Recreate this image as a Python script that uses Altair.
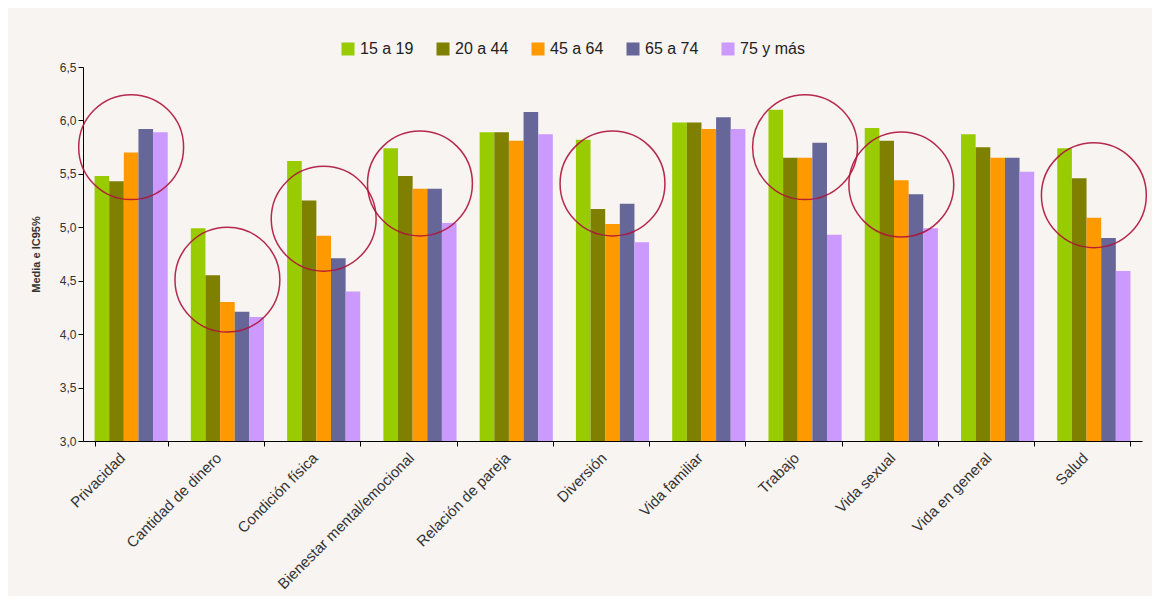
import altair as alt
import pandas as pd

categories = ["Privacidad", "Cantidad de dinero", "Condición física", "Bienestar mental/emocional",
              "Relación de pareja", "Diversión", "Vida familiar", "Trabajo", "Vida sexual",
              "Vida en general", "Salud"]
groups = ["15 a 19", "20 a 44", "45 a 64", "65 a 74", "75 y más"]
colors = ["#99cc00", "#808000", "#ff9900", "#666699", "#cc99ff"]

v_15_19 = [5.48, 4.99, 5.62, 5.74, 5.89, 5.82, 5.98, 6.10, 5.93, 5.87, 5.74]
v_20_44 = [5.43, 4.55, 5.25, 5.48, 5.89, 5.17, 5.98, 5.65, 5.81, 5.75, 5.46]
v_45_64 = [5.70, 4.30, 4.92, 5.36, 5.81, 5.03, 5.92, 5.65, 5.44, 5.65, 5.09]
v_65_74 = [5.92, 4.21, 4.71, 5.36, 6.08, 5.22, 6.03, 5.79, 5.31, 5.65, 4.90]
v_75_mas = [5.89, 4.16, 4.40, 5.04, 5.87, 4.86, 5.92, 4.93, 4.99, 5.52, 4.59]

circled = ["Privacidad", "Cantidad de dinero", "Condición física", "Bienestar mental/emocional",
           "Diversión", "Trabajo", "Vida sexual", "Salud"]
circle_y = [5.75, 4.51, 5.08, 5.41, 5.41, 5.75, 5.40, 5.30]

series = [v_15_19, v_20_44, v_45_64, v_65_74, v_75_mas]
rows = []
for g, vals in zip(groups, series):
    for c, v in zip(categories, vals):
        rows.append({"categoria": c, "grupo": g, "valor": v})
df = pd.DataFrame(rows)
df_c = pd.DataFrame({"categoria": circled, "valor": circle_y})

FONT = "Liberation Sans"

x_enc = alt.X("categoria:N", sort=categories, title=None,
              scale=alt.Scale(paddingInner=0.24, paddingOuter=0.12),
              axis=alt.Axis(labelAngle=-45, labelAlign="right", labelBaseline="middle",
                            tickBand="extent", tickSize=5, tickColor="black",
                            domainColor="black", labelFontSize=15, labelColor="#333333",
                            labelFont=FONT, labelPadding=9, labelOffset=-9, labelLimit=200))

y_enc = alt.Y("valor:Q", title="Media e IC95%",
              scale=alt.Scale(domain=[3, 6.5], zero=False, nice=False),
              axis=alt.Axis(values=[3, 3.5, 4, 4.5, 5, 5.5, 6, 6.5],
                            labelExpr="replace(format(datum.value, '.1f'), '.', ',')",
                            grid=False, tickSize=5, tickColor="black", domainColor="black",
                            labelFontSize=12, labelColor="#333333", labelFont=FONT,
                            titleFontSize=11, titleFont=FONT, titleFontWeight="bold",
                            titleColor="#333333", titlePadding=18))

bars = alt.Chart(df).mark_bar(clip=True).encode(
    x=x_enc,
    xOffset=alt.XOffset("grupo:N", sort=groups),
    y=y_enc,
    color=alt.Color("grupo:N", sort=groups,
                    scale=alt.Scale(domain=groups, range=colors),
                    legend=alt.Legend(title=None, orient="none", direction="horizontal",
                                      legendX=257, legendY=-26, symbolType="square",
                                      symbolSize=169, symbolStrokeWidth=0, labelFontSize=16,
                                      labelFont=FONT, labelColor="#222222",
                                      columnPadding=21, labelOffset=4)),
)

circles = alt.Chart(df_c).mark_point(shape="circle", filled=False, size=11000,
                                     stroke="#b0143c", strokeWidth=1.5, opacity=0.9).encode(
    x=alt.X("categoria:N", sort=categories),
    y=alt.Y("valor:Q"),
)

chart = alt.layer(bars, circles).properties(
    width=1059, height=374,
    background="#f7f4f1",
    padding={"left": 75, "top": 59, "right": 10, "bottom": 155},
    autosize=alt.AutoSizeParams(type="none"),
).configure_view(stroke=None)

chart.save("out.html", embed_options={"renderer": "svg", "actions": False})
